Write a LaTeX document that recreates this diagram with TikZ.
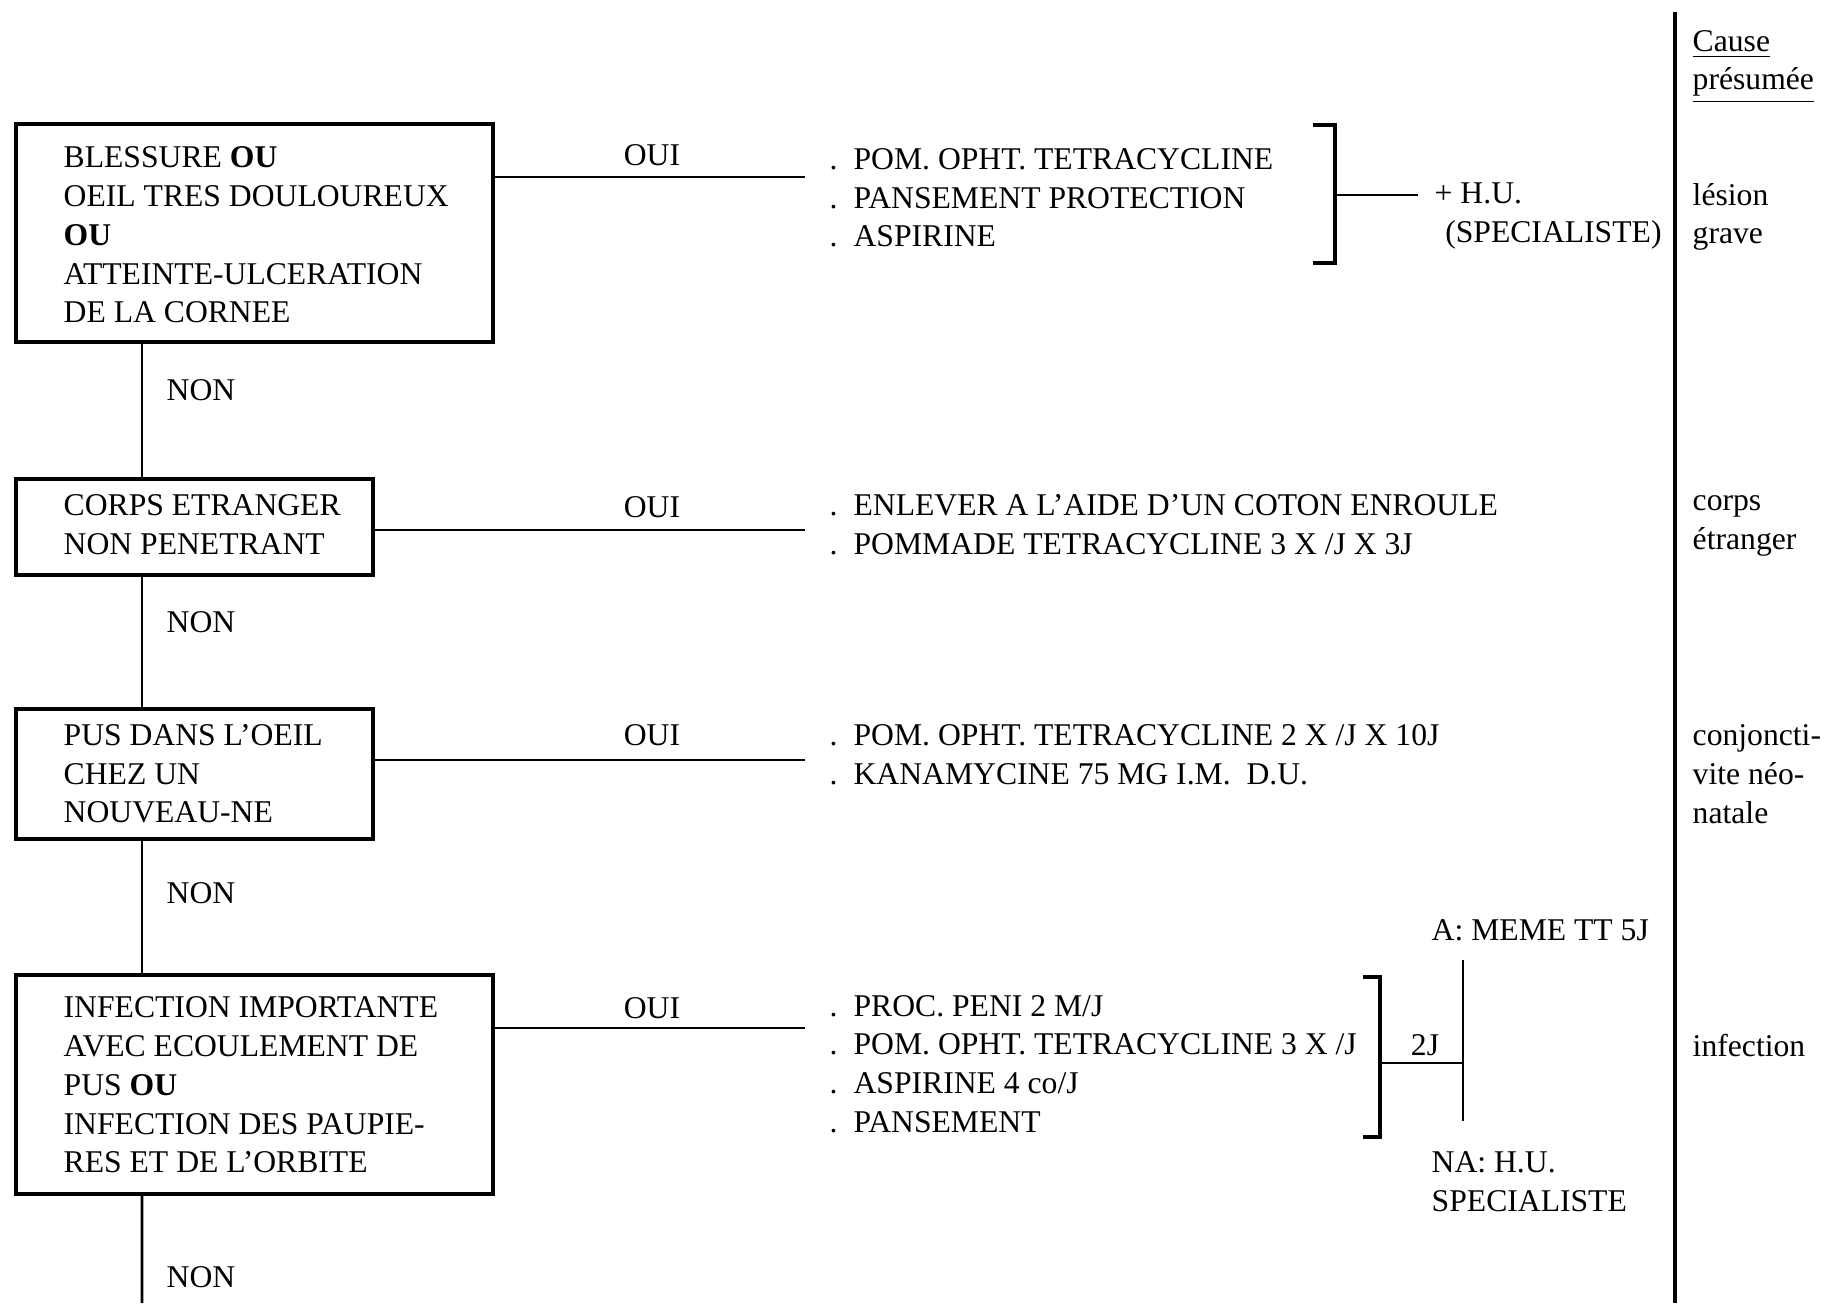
\documentclass[tikz,border=0pt]{standalone}
\usepackage{fontspec}
\setmainfont{Liberation Serif}
\newcommand\dotit{\makebox[6.8pt][l]{.}}
\begin{document}
\begin{tikzpicture}[x=0.01cm,y=-0.01cm,
  box/.style={draw,line width=1.1pt,inner sep=0,anchor=north west},
  txt/.style={inner sep=0,anchor=west,align=left,font=\fontsize{9}{11}\selectfont},
  lbl/.style={inner sep=0,font=\fontsize{9}{11}\selectfont},
  wire/.style={line width=0.8pt}]
\useasboundingbox (0,0) rectangle (1825,1303);
\node[box,minimum width=4.77cm,minimum height=2.18cm] (q1) at (14,122) {};
\node[box,minimum width=3.57cm,minimum height=0.96cm] (q2) at (14,477) {};
\node[box,minimum width=3.57cm,minimum height=1.30cm] (q3) at (14,707) {};
\node[box,minimum width=4.77cm,minimum height=2.19cm] (q4) at (14,973) {};
\node[txt] (t1) at (63,235) {BLESSURE \textbf{OU}\\OEIL TRES DOULOUREUX\\\textbf{OU}\\ATTEINTE-ULCERATION\\DE LA CORNEE};
\node[txt] (t2) at (63,525) {CORPS ETRANGER\\NON PENETRANT};
\node[txt] (t3) at (63,774) {PUS DANS L'OEIL\\CHEZ UN\\NOUVEAU-NE};
\node[txt] (t4) at (63,1085) {INFECTION IMPORTANTE\\AVEC ECOULEMENT DE\\PUS \textbf{OU}\\INFECTION DES PAUPIE-\\RES ET DE L'ORBITE};
\node[txt] (i1) at (829,198) {\dotit POM. OPHT. TETRACYCLINE\\\dotit PANSEMENT PROTECTION\\\dotit ASPIRINE};
\node[txt] (i2) at (829,525) {\dotit ENLEVER A L'AIDE D'UN COTON ENROULE\\\dotit POMMADE TETRACYCLINE 3 X /J X 3J};
\node[txt] (i3) at (829,755) {\dotit POM. OPHT. TETRACYCLINE 2 X /J X 10J\\\dotit KANAMYCINE 75 MG I.M.~~D.U.};
\node[txt] (i4) at (829,1064) {\dotit PROC. PENI 2 M/J\\\dotit POM. OPHT. TETRACYCLINE 3 X /J\\\dotit ASPIRINE 4 co/J\\\dotit PANSEMENT};
\node[lbl] (oui1) at (652,155) {OUI};
\node[lbl] (oui2) at (652,507) {OUI};
\node[lbl] (oui3) at (652,735) {OUI};
\node[lbl] (oui4) at (652,1008) {OUI};
\node[lbl,anchor=west] (non1) at (166,390) {NON};
\node[lbl,anchor=west] (non2) at (166,622) {NON};
\node[lbl,anchor=west] (non3) at (166,893) {NON};
\node[lbl,anchor=west] (non4) at (166,1277) {NON};
\node[txt] (hu) at (1434,216) {+ H.U.\\\hspace*{3pt}(SPECIALISTE)};
\node[txt] (ameme) at (1431,930) {A: MEME TT 5J};
\node[txt] (nahu) at (1431,1182) {NA: H.U.\\SPECIALISTE};
\node[lbl] (deuxj) at (1425,1045) {2J};
\node[txt] (cause) at (1692,67) {\underline{Cause}\\\underline{présumée}};
\node[txt] (r1) at (1692,217) {lésion\\grave};
\node[txt] (r2) at (1692,526) {corps\\étranger};
\node[txt] (r3) at (1692,774) {conjoncti-\\vite néo-\\natale};
\node[txt] (r4) at (1692,1045) {infection};
\draw[wire] ([xshift=1.28cm]q1.south west) -- ([xshift=1.28cm]q2.north west);
\draw[wire] ([xshift=1.28cm]q2.south west) -- ([xshift=1.28cm]q3.north west);
\draw[wire] ([xshift=1.28cm]q3.south west) -- ([xshift=1.28cm]q4.north west);
\coordinate (bottom) at (142,1303);
\draw[wire] ([xshift=1.28cm]q4.south west) -- (bottom);
\draw[wire,shorten >=6.8pt] ([yshift=-0.55cm]q1.north east) coordinate (o1) -- (o1 -| i1.west);
\draw[wire,shorten >=6.8pt] ([yshift=-0.53cm]q2.north east) coordinate (o2) -- (o2 -| i2.west);
\draw[wire,shorten >=6.8pt] ([yshift=-0.53cm]q3.north east) coordinate (o3) -- (o3 -| i3.west);
\draw[wire,shorten >=6.8pt] ([yshift=-0.55cm]q4.north east) coordinate (o4) -- (o4 -| i4.west);
\draw[line width=1.1pt] (1313,125) -| (1335,263) -- (1313,263);
\coordinate (b1) at (1335,195);
\draw[wire,shorten >=4.5pt] (b1) -- (b1 -| hu.west);
\draw[line width=1.1pt] (1363,977) -| (1380,1137) -- (1363,1137);
\coordinate (b4) at (1380,1063);
\coordinate (fork) at (1463,1063);
\draw[wire] (b4) -- (fork);
\draw[wire] (1463,960) -- (1463,1121);
\draw[line width=1pt] (1675,12) -- (1675,1303);
\end{tikzpicture}
\end{document}
